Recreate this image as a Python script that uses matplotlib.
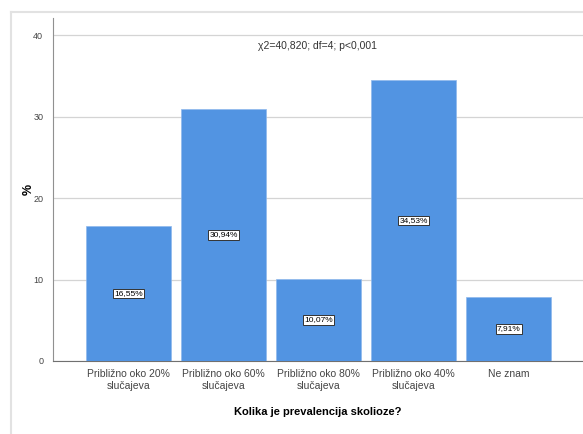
import matplotlib.pyplot as plt
from matplotlib.lines import Line2D

categories = ["Približno oko 20%\nslučajeva", "Približno oko 60%\nslučajeva",
              "Približno oko 80%\nslučajeva", "Približno oko 40%\nslučajeva", "Ne znam"]
values = [16.55, 30.94, 10.07, 34.53, 7.91]
value_labels = ["16,55%", "30,94%", "10,07%", "34,53%", "7,91%"]
yticks = [0, 10, 20, 30, 40]

plt.rcParams["font.family"] = ["Liberation Sans", "DejaVu Sans"]

fig = plt.figure(figsize=(5.83, 4.34), dpi=100)
ax = fig.add_axes([53 / 583, 73 / 434, 1 - 53 / 583, (361 - 18) / 434])

x = list(range(len(categories)))
ax.bar(x, values, width=0.895, color="#5294e2", edgecolor="#8fb8ec", linewidth=0.5, zorder=3)

for xi, v, lab in zip(x, values, value_labels):
    ax.text(xi, v / 2, lab, ha="center", va="center", fontsize=6, zorder=4,
            bbox=dict(boxstyle="square,pad=0.15", fc="white", ec="#333333", lw=0.7))

ax.set_xlim(-0.795, 4.78)
ax.set_ylim(0, (361 - 18) / 8.15)
ax.set_yticks(yticks)
ax.set_yticklabels([str(t) for t in yticks], fontsize=6.5, color="#444444")
ax.set_xticks(x)
ax.set_xticklabels(categories, fontsize=7.5, color="#444444", linespacing=1.15)
ax.tick_params(axis="both", length=0)
ax.tick_params(axis="x", pad=6)
ax.tick_params(axis="y", pad=7)

ax.grid(axis="y", color="#d4d4d4", linewidth=0.9, zorder=0)
for s in ["top", "right"]:
    ax.spines[s].set_visible(False)
ax.spines["left"].set_color("#909090")
ax.spines["bottom"].set_color("#707070")

ax.text(0.5, 38.6, "χ2=40,820; df=4; p<0,001", transform=ax.get_yaxis_transform(),
        ha="center", va="center", fontsize=7.5, color="#333333")
ax.set_xlabel("Kolika je prevalencija skolioze?", fontsize=8, fontweight="bold", labelpad=12)
ax.set_ylabel("%", fontsize=9, fontweight="bold")
ax.yaxis.set_label_coords(-18 / 530, 0.5)

# outer frame
fig.add_artist(Line2D([11 / 583, 11 / 583], [0, 1 - 12 / 434], color="#e2e2e2", lw=1.5, transform=fig.transFigure))
fig.add_artist(Line2D([11 / 583, 1], [1 - 12 / 434, 1 - 12 / 434], color="#e2e2e2", lw=1.5, transform=fig.transFigure))

fig.savefig("out.png", dpi=100)
